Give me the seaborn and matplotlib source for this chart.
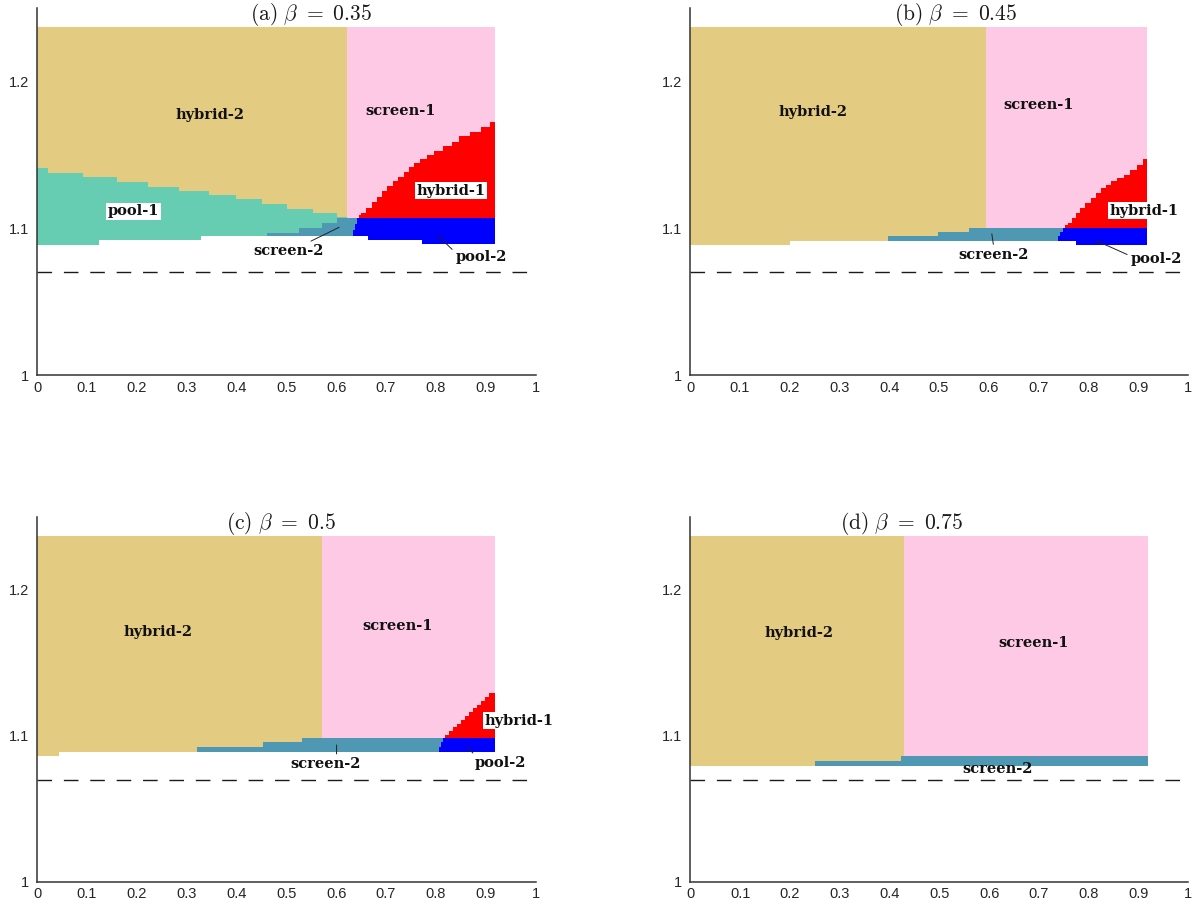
import numpy as np
import pandas as pd
import matplotlib
matplotlib.use("Agg")
import matplotlib.pyplot as plt
import seaborn as sns

# ------------------------------------------------------------------ data
X_MAX = 0.918          # right end of the computed region
Y_TOP = 1.237          # top of the computed region
DASH_Y = 1.07          # dashed reference level

x_ticks = [0, 0.1, 0.2, 0.3, 0.4, 0.5, 0.6, 0.7, 0.8, 0.9, 1.0]
x_tick_labels = ["0", "0.1", "0.2", "0.3", "0.4", "0.5", "0.6", "0.7", "0.8", "0.9", "1"]
y_ticks = [1.0, 1.1, 1.2]
y_tick_labels = ["1", "1.1", "1.2"]

titles = [r"$\mathrm{(a)}\ \beta\ =\ 0.35$", r"$\mathrm{(b)}\ \beta\ =\ 0.45$",
          r"$\mathrm{(c)}\ \beta\ =\ 0.5$", r"$\mathrm{(d)}\ \beta\ =\ 0.75$"]
title_x = [0.55, 0.534, 0.49, 0.424]

# panel (a) beta = 0.35
a_split = 0.621
a_low_x = [0.0, 0.125, 0.329, 0.663, 0.772]
a_low_y = [1.0888, 1.0918, 1.0950, 1.0918, 1.0889]
a_pool1_x = [0.0, 0.0216, 0.0929, 0.1613, 0.2232, 0.2858, 0.3456, 0.3989, 0.4514, 0.5018, 0.5536, 0.6026]
a_pool1_y = [1.1411, 1.1379, 1.1347, 1.1315, 1.1283, 1.1251, 1.1229, 1.1197, 1.1165, 1.1133, 1.1101, 1.1074]
a_screen2_x = [0.461, 0.526, 0.571, 0.602]
a_screen2_y = [1.0968, 1.1002, 1.1034, 1.1070]
a_screen2_end = 0.646
a_pool2_x = [0.633, 0.638, 0.642]
a_pool2_y = [1.0985, 1.1028, 1.1070]
a_hybrid1_base = 1.1070
a_hybrid1_x = [0.645, 0.650, 0.660, 0.671, 0.682, 0.693, 0.703, 0.714, 0.725, 0.736, 0.747,
               0.757, 0.768, 0.783, 0.797, 0.815, 0.832, 0.847, 0.869, 0.891, 0.909]
a_hybrid1_y = [1.1090, 1.1101, 1.1138, 1.1176, 1.1210, 1.1256, 1.1290, 1.1324, 1.1347, 1.1381, 1.1415,
               1.1443, 1.1472, 1.1502, 1.1529, 1.1559, 1.1590, 1.1625, 1.1654, 1.1688, 1.1720]

# panel (b) beta = 0.45
b_split = 0.594
b_low_x = [0.0, 0.200, 0.775]
b_low_y = [1.0884, 1.0916, 1.0884]
b_screen2_x = [0.398, 0.497, 0.561]
b_screen2_y = [1.0946, 1.0973, 1.1002]
b_screen2_end = 0.753
b_pool2_x = [0.738, 0.743, 0.748]
b_pool2_y = [1.0945, 1.0973, 1.1002]
b_hybrid1_base = 1.1002
b_hybrid1_x = [0.752, 0.7593, 0.7662, 0.7753, 0.7835, 0.794, 0.8044, 0.8149, 0.8253, 0.8357,
               0.8462, 0.8566, 0.8705, 0.8844, 0.8983, 0.9087]
b_hybrid1_y = [1.1019, 1.1036, 1.1070, 1.1104, 1.1138, 1.1172, 1.1206, 1.1240, 1.1274, 1.1297,
               1.1320, 1.1342, 1.1365, 1.1399, 1.1433, 1.1474]

# panel (c) beta = 0.5
c_split = 0.571
c_low_x = [0.0, 0.0446]
c_low_y = [1.0862, 1.0891]
c_screen2_x = [0.321, 0.454, 0.531]
c_screen2_y = [1.0924, 1.0955, 1.0987]
c_screen2_end = 0.819
c_pool2_x = [0.806, 0.811, 0.815]
c_pool2_y = [1.0920, 1.0955, 1.0987]
c_hybrid1_base = 1.0987
c_hybrid1_x = [0.8185, 0.8265, 0.8352, 0.8419, 0.8506, 0.8586, 0.8666, 0.874, 0.882, 0.890, 0.8987, 0.9074]
c_hybrid1_y = [1.1006, 1.1034, 1.1059, 1.1082, 1.1109, 1.1137, 1.1162, 1.1189, 1.1212, 1.1241, 1.1269, 1.1296]

# panel (d) beta = 0.75
d_split = 0.428
d_low_x = [0.0]
d_low_y = [1.0795]
d_screen2_x = [0.2507, 0.4236]
d_screen2_y = [1.0827, 1.0862]
d_screen2_end = X_MAX

# region labels: (text, x, y, white box, leader tip or None, leader start on label)
a_labels = [("hybrid-2", 0.347, 1.1768, False, None, None),
            ("screen-1", 0.730, 1.1795, False, None, None),
            ("hybrid-1", 0.831, 1.1256, True, None, None),
            ("pool-1", 0.194, 1.1115, True, None, None),
            ("screen-2", 0.505, 1.0842, False, (0.606, 1.1006), (0.72, 1.0)),
            ("pool-2", 0.891, 1.0801, False, (0.804, 1.0949), (0.0, 0.85))]
b_labels = [("hybrid-2", 0.247, 1.1790, False, None, None),
            ("screen-1", 0.700, 1.1837, False, None, None),
            ("hybrid-1", 0.912, 1.1120, True, None, None),
            ("screen-2", 0.610, 1.0820, False, (0.606, 1.0961), (0.5, 1.0)),
            ("pool-2", 0.936, 1.0787, False, (0.815, 1.0916), (0.0, 0.75))]
c_labels = [("hybrid-2", 0.2426, 1.1714, False, None, None),
            ("screen-1", 0.7228, 1.1749, False, None, None),
            ("hybrid-1", 0.9676, 1.1104, True, None, None),
            ("screen-2", 0.5796, 1.0805, False, (0.601, 1.0937), (0.65, 1.0)),
            ("pool-2", 0.930, 1.0811, False, (0.862, 1.0926), (0.05, 0.9))]
d_labels = [("hybrid-2", 0.2183, 1.1707, False, None, None),
            ("screen-1", 0.6888, 1.1634, False, None, None),
            ("screen-2", 0.616, 1.0773, False, None, None)]

# ------------------------------------------------------------------ style
C_HYB2 = "#E4CB82"
C_SCR1 = "#FDC9E4"
C_POOL1 = "#66CDB3"
C_SCR2 = "#4E98B3"
C_HYB1 = "#FF0000"
C_POOL2 = "#0000FF"

sns.set_theme(style="white")
plt.rcParams["mathtext.fontset"] = "cm"
plt.rcParams["font.family"] = ["DejaVu Sans"]


def step_val(bx, by, x):
    idx = np.searchsorted(np.asarray(bx), x, side="right") - 1
    idx = np.clip(idx, 0, len(by) - 1)
    return np.asarray(by)[idx]


def fill_steps(ax, x0, x1, lo, hi, color):
    pts = {x0, x1}
    for f in (lo, hi):
        if isinstance(f, tuple):
            pts.update(v for v in f[0] if x0 < v < x1)
    xs = np.array(sorted(pts))

    def ev(f):
        if isinstance(f, tuple):
            return step_val(f[0], f[1], xs)
        return np.full(len(xs), f)

    ax.fill_between(xs, ev(lo), ev(hi), step="post", color=color,
                    linewidth=0, antialiased=False)


def draw_panel(ax, split, low, pool1=None, screen2=None, pool2=None, hybrid1=None):
    fill_steps(ax, 0.0, split, low, Y_TOP, C_HYB2)
    fill_steps(ax, split, X_MAX, low, Y_TOP, C_SCR1)
    if pool1 is not None:
        fill_steps(ax, 0.0, split, low, pool1, C_POOL1)
    if screen2 is not None:
        sx, sy, send = screen2
        fill_steps(ax, sx[0], send, low, (sx, sy), C_SCR2)
    if pool2 is not None:
        px, py = pool2
        fill_steps(ax, px[0], X_MAX, low, (px, py), C_POOL2)
    if hybrid1 is not None:
        hx, hy, base = hybrid1
        fill_steps(ax, hx[0], X_MAX, base, (hx, hy), C_HYB1)


def style_axes(ax, title, tx, labels):
    dash_df = pd.DataFrame({"x": [0.0, 1.0], "y": [DASH_Y, DASH_Y]})
    sns.lineplot(data=dash_df, x="x", y="y", ax=ax, color="#1a1a1a", linewidth=1.0,
                 linestyle=(0, (10.5, 8.5)))
    ax.set_xlim(0, 1)
    ax.set_ylim(1.0, 1.25)
    ax.set_xlabel("")
    ax.set_ylabel("")
    for s in ("top", "right"):
        ax.spines[s].set_visible(False)
    for s in ("left", "bottom"):
        ax.spines[s].set_color("#333333")
        ax.spines[s].set_linewidth(1.1)
    ax.set_xticks(x_ticks)
    ax.set_xticklabels(x_tick_labels, fontfamily="Liberation Sans", fontsize=10.5, color="#262626")
    ax.set_yticks(y_ticks)
    ax.set_yticklabels(y_tick_labels, fontfamily="Liberation Sans", fontsize=10.5, color="#262626")
    ax.tick_params(axis="both", which="major", length=0)
    ax.tick_params(axis="x", which="major", pad=4)
    ax.tick_params(axis="y", which="major", pad=6)
    ax.set_xticks([1.0], minor=True)
    ax.tick_params(axis="x", which="minor", direction="in", length=4, width=1.1, color="#333333")
    ax.text(tx, 1.2455, title, ha="center", va="center", fontsize=15.5, color="#1a1a1a")
    for text, x, y, white, tip, rel in labels:
        kw = dict(ha="center", va="center", fontfamily="DejaVu Serif", fontweight="bold",
                  fontsize=10.5, color="#111111", zorder=5)
        if white:
            kw["bbox"] = dict(facecolor="white", edgecolor="none", pad=1.2)
        if tip is None:
            ax.text(x, y, text, **kw)
        else:
            ax.annotate(text, xy=tip, xytext=(x, y), textcoords="data",
                        arrowprops=dict(arrowstyle="-", color="#222222", lw=0.7,
                                        shrinkA=0, shrinkB=0, relpos=rel), **kw)


fig = plt.figure(figsize=(11.94, 9.08), dpi=100)
ax_a = fig.add_axes([0.0310, 0.5870, 0.4175, 0.4042])
ax_b = fig.add_axes([0.5779, 0.5870, 0.4171, 0.4042])
ax_c = fig.add_axes([0.0310, 0.0290, 0.4175, 0.4017])
ax_d = fig.add_axes([0.5782, 0.0290, 0.4171, 0.4017])

draw_panel(ax_a, a_split, (a_low_x, a_low_y), pool1=(a_pool1_x, a_pool1_y),
           screen2=(a_screen2_x, a_screen2_y, a_screen2_end),
           pool2=(a_pool2_x, a_pool2_y),
           hybrid1=(a_hybrid1_x, a_hybrid1_y, a_hybrid1_base))
draw_panel(ax_b, b_split, (b_low_x, b_low_y),
           screen2=(b_screen2_x, b_screen2_y, b_screen2_end),
           pool2=(b_pool2_x, b_pool2_y),
           hybrid1=(b_hybrid1_x, b_hybrid1_y, b_hybrid1_base))
draw_panel(ax_c, c_split, (c_low_x, c_low_y),
           screen2=(c_screen2_x, c_screen2_y, c_screen2_end),
           pool2=(c_pool2_x, c_pool2_y),
           hybrid1=(c_hybrid1_x, c_hybrid1_y, c_hybrid1_base))
draw_panel(ax_d, d_split, (d_low_x, d_low_y),
           screen2=(d_screen2_x, d_screen2_y, d_screen2_end))

for ax, t, tx, labs in zip([ax_a, ax_b, ax_c, ax_d], titles, title_x,
                           [a_labels, b_labels, c_labels, d_labels]):
    style_axes(ax, t, tx, labs)

fig.savefig("out.png", dpi=100, facecolor="white")
